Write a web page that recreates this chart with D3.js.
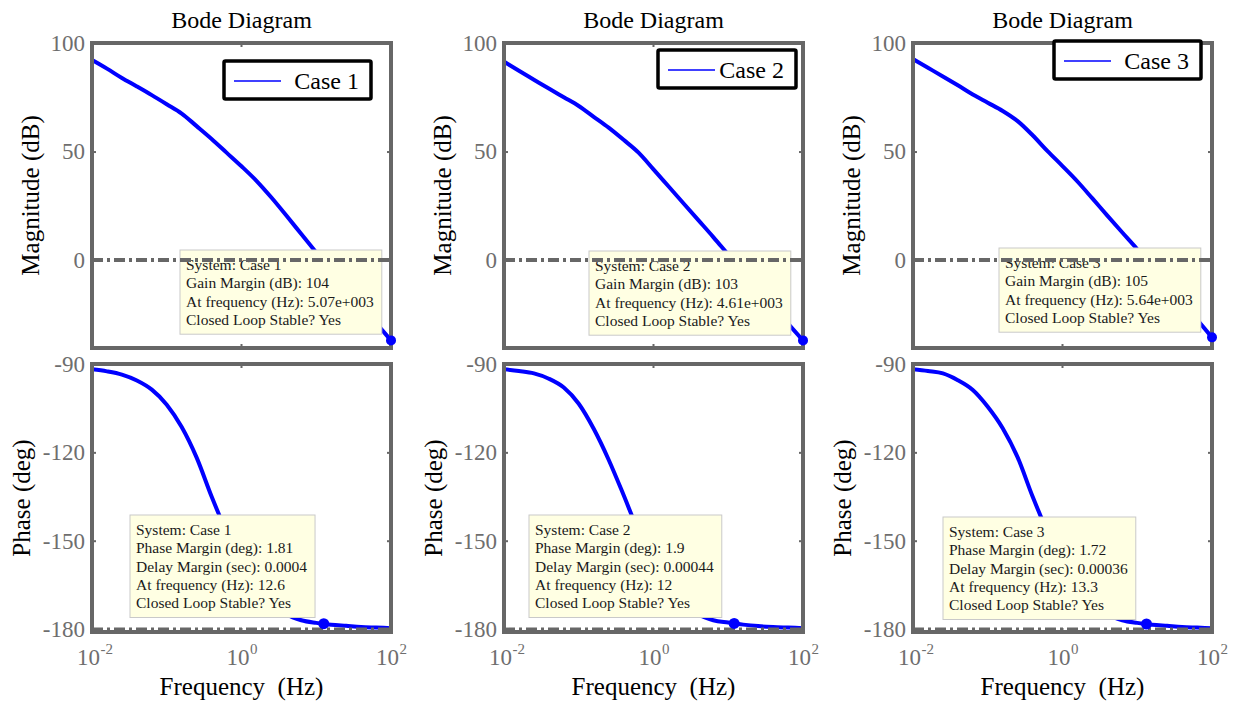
<!DOCTYPE html>
<html lang="en">
<head>
<meta charset="UTF-8">
<title>Bode Diagram</title>
<script src="https://d3js.org/d3.v7.min.js"></script>
<style>
  body { margin: 0; background: #fff; }
  svg text { font-family: "Liberation Serif", "Times New Roman", Tinos, "DejaVu Serif", serif; }
</style>
</head>
<body>
<div id="chart"></div>
<script>
const logFreq = [-2, -1.8, -1.6, -1.4, -1.2, -1.0, -0.8, -0.6, -0.4, -0.2, 0,
                 0.2, 0.4, 0.6, 0.8, 1.0, 1.2, 1.4, 1.6, 1.8, 2];

const cases = ["Case 1", "Case 2", "Case 3"];

// magnitude (dB)
const magCase1 = [92.2, 88.2, 83.9, 80.0, 76.0, 71.8, 67.5, 61.7, 55.8, 49.5, 43.2,
                  36.5, 28.8, 20.5, 12.0, 3.5, -5.0, -13.0, -21.0, -29.0, -37.0];
const magCase2 = [91.4, 87.2, 83.1, 79.0, 75.0, 71.0, 66.0, 61.0, 55.4, 49.5, 41.8,
                  34.0, 26.2, 18.4, 10.6, 2.5, -5.5, -13.5, -21.5, -29.3, -37.0];
const magCase3 = [92.6, 88.6, 84.6, 80.5, 76.3, 72.5, 68.7, 64.0, 57.5, 50.2, 43.3,
                  36.2, 28.4, 20.5, 12.7, 5.0, -3.1, -11.2, -19.3, -27.4, -35.6];

// phase (deg)
const phaseCase1 = [-91.8, -92.5, -93.6, -95.6, -98.7, -103.8, -111.4, -121.8, -135.0, -147.0, -157.0,
                    -165.0, -171.0, -175.0, -177.0, -177.9, -178.5, -178.9, -179.3, -179.5, -179.7];
const phaseCase2 = [-91.8, -92.4, -93.2, -95.0, -98.0, -103.5, -112.0, -122.5, -134.5, -147.0, -157.0,
                    -165.0, -171.0, -175.0, -177.0, -177.8, -178.5, -179.0, -179.3, -179.5, -179.7];
const phaseCase3 = [-91.8, -92.4, -93.2, -95.5, -98.8, -104.5, -111.8, -121.7, -135.0, -147.0, -157.0,
                    -165.0, -171.0, -175.0, -177.0, -177.9, -178.5, -178.9, -179.3, -179.5, -179.7];

// stability margins shown in the data tips
const gainMargin = [104, 103, 105];
const gmFreq = ["5.07e+003", "4.61e+003", "5.64e+003"];
const phaseMargin = [1.81, 1.9, 1.72];
const delayMargin = ["0.0004", "0.00044", "0.00036"];
const pmFreq = [12.6, 12, 13.3];

const magTicks = [100, 50, 0];
const phaseTicks = [-90, -120, -150, -180];
const freqTickExp = [-2, 0, 2];

const mags = [magCase1, magCase2, magCase3];
const phases = [phaseCase1, phaseCase2, phaseCase3];

const width = 1237, height = 705;
const gray = "#676767";
const tickGray = "#6e6e6e";
const serif = "'Liberation Serif', 'Times New Roman', Tinos, 'DejaVu Serif', serif";

// placement of each column (axes left edge, legend and data tip boxes)
const layout = [
  { left: 92,  legX: 224,  legY: 61, legW: 147, magTipX: 180, magTipY: 250, phTipX: 130, phTipY: 515 },
  { left: 504, legX: 658,  legY: 50, legW: 138, magTipX: 589, magTipY: 251, phTipX: 529, phTipY: 515 },
  { left: 913, legX: 1054, legY: 41, legW: 147, magTipX: 999, magTipY: 248, phTipX: 943, phTipY: 517 }
];
const axW = 299;
const magTop = 43, magBottom = 348;
const phTop = 364, phBottom = 632;

const svg = d3.select("#chart").append("svg")
  .attr("width", width).attr("height", height)
  .attr("font-family", serif)
  .style("background", "#fff");

function tipBox(g, x, y, lines) {
  const box = g.append("rect").attr("x", x).attr("y", y)
    .attr("fill", "#ffffe3").attr("stroke", "#c9c9c9").attr("stroke-width", 1);
  let maxLen = 0;
  lines.forEach((t, i) => {
    const txt = g.append("text").attr("x", x + 6).attr("y", y + 20 + i * 18.3)
      .attr("font-size", "15.5px").attr("fill", "#1a1a1a").text(t);
    maxLen = Math.max(maxLen, txt.node().getComputedTextLength());
  });
  box.attr("width", maxLen + 14).attr("height", lines.length * 18.3 + 11);
}

layout.forEach((p, i) => {
  const g = svg.append("g");
  const x = d3.scaleLog().domain([0.01, 100]).range([p.left, p.left + axW]);
  const yMag = d3.scaleLinear().domain([-40.5, 100]).range([magBottom, magTop]);
  const yPh = d3.scaleLinear().domain([-181, -90]).range([phBottom, phTop]);

  const magPts = logFreq.map((lf, k) => [Math.pow(10, lf), mags[i][k]]);
  const phPts = logFreq.map((lf, k) => [Math.pow(10, lf), phases[i][k]]);

  // title
  g.append("text").attr("x", p.left + axW / 2).attr("y", 28)
    .attr("text-anchor", "middle").attr("font-size", "24px").attr("fill", "#000")
    .text("Bode Diagram");

  // y labels
  g.append("text")
    .attr("transform", `translate(${p.left - 62},${(magTop + magBottom) / 2}) rotate(-90)`)
    .attr("text-anchor", "middle").attr("dominant-baseline", "central")
    .attr("font-size", "25px").attr("fill", "#000").text("Magnitude (dB)");
  g.append("text")
    .attr("transform", `translate(${p.left - 71},${(phTop + phBottom) / 2}) rotate(-90)`)
    .attr("text-anchor", "middle").attr("dominant-baseline", "central")
    .attr("font-size", "25px").attr("fill", "#000").text("Phase (deg)");

  // y axes
  const fmt = d => String(d);
  const magAxis = g.append("g").attr("transform", `translate(${p.left},0)`)
    .call(d3.axisLeft(yMag).tickValues(magTicks).tickFormat(fmt).tickSizeInner(-4).tickSizeOuter(0).tickPadding(7));
  const magAxisR = g.append("g").attr("transform", `translate(${p.left + axW},0)`)
    .call(d3.axisRight(yMag).tickValues(magTicks).tickSizeInner(-4).tickSizeOuter(0).tickFormat(""));
  const phAxis = g.append("g").attr("transform", `translate(${p.left},0)`)
    .call(d3.axisLeft(yPh).tickValues(phaseTicks).tickFormat(fmt).tickSizeInner(-4).tickSizeOuter(0).tickPadding(7));
  const phAxisR = g.append("g").attr("transform", `translate(${p.left + axW},0)`)
    .call(d3.axisRight(yPh).tickValues(phaseTicks).tickSizeInner(-4).tickSizeOuter(0).tickFormat(""));
  [magAxis, magAxisR, phAxis, phAxisR].forEach(a => {
    a.attr("font-family", serif);
    a.select(".domain").remove();
    a.selectAll("line").attr("stroke", gray).attr("stroke-width", 2);
    a.selectAll("text").attr("font-size", "23px").attr("fill", tickGray);
  });

  // x ticks on both axes boxes
  freqTickExp.forEach(e => {
    const xv = x(Math.pow(10, e));
    [[magTop, 1], [magBottom, -1], [phTop, 1], [phBottom, -1]].forEach(([yy, dir]) => {
      g.append("line").attr("x1", xv).attr("x2", xv).attr("y1", yy).attr("y2", yy + dir * 4)
        .attr("stroke", gray).attr("stroke-width", 2);
    });
    g.append("text").attr("x", xv + 8).attr("y", 665).attr("text-anchor", "end")
      .attr("font-size", "23px").attr("fill", tickGray).text("10");
    g.append("text").attr("x", xv + 8.5).attr("y", 654).attr("text-anchor", "start")
      .attr("font-size", "15px").attr("fill", tickGray).text(String(e));
  });

  // x label
  g.append("text").attr("x", p.left + axW / 2).attr("y", 695)
    .attr("text-anchor", "middle").attr("font-size", "25px").attr("fill", "#000")
    .style("white-space", "pre").text("Frequency  (Hz)");

  // clip paths
  svg.append("clipPath").attr("id", "clipMag" + i).append("rect")
    .attr("x", p.left).attr("y", magTop).attr("width", axW).attr("height", magBottom - magTop);
  svg.append("clipPath").attr("id", "clipPh" + i).append("rect")
    .attr("x", p.left).attr("y", phTop).attr("width", axW).attr("height", phBottom - phTop);

  // magnitude curve
  const magLine = d3.line().x(d => x(d[0])).y(d => yMag(d[1])).curve(d3.curveMonotoneX);
  g.append("path").datum(magPts).attr("d", magLine)
    .attr("clip-path", `url(#clipMag${i})`)
    .attr("fill", "none").attr("stroke", "#0000ff").attr("stroke-width", 4)
    .attr("stroke-linejoin", "round").attr("stroke-linecap", "round");

  // phase curve
  const phLine = d3.line().x(d => x(d[0])).y(d => yPh(d[1])).curve(d3.curveMonotoneX);
  g.append("path").datum(phPts).attr("d", phLine)
    .attr("clip-path", `url(#clipPh${i})`)
    .attr("fill", "none").attr("stroke", "#0000ff").attr("stroke-width", 4)
    .attr("stroke-linejoin", "round").attr("stroke-linecap", "round");

  // data tips
  tipBox(g, p.magTipX, p.magTipY, [
    "System: " + cases[i],
    "Gain Margin (dB): " + gainMargin[i],
    "At frequency (Hz): " + gmFreq[i],
    "Closed Loop Stable? Yes"
  ]);
  tipBox(g, p.phTipX, p.phTipY, [
    "System: " + cases[i],
    "Phase Margin (deg): " + phaseMargin[i],
    "Delay Margin (sec): " + delayMargin[i],
    "At frequency (Hz): " + pmFreq[i],
    "Closed Loop Stable? Yes"
  ]);

  // 0 dB and -180 deg reference lines
  g.append("line").attr("x1", p.left).attr("x2", p.left + axW)
    .attr("y1", yMag(0)).attr("y2", yMag(0))
    .attr("stroke", gray).attr("stroke-width", 4).attr("stroke-dasharray", "11,4,3,4");
  g.append("line").attr("x1", p.left).attr("x2", p.left + axW)
    .attr("y1", yPh(-180)).attr("y2", yPh(-180))
    .attr("stroke", gray).attr("stroke-width", 3).attr("stroke-dasharray", "11,4,3,4");

  // frames
  g.append("rect").attr("x", p.left).attr("y", magTop).attr("width", axW).attr("height", magBottom - magTop)
    .attr("fill", "none").attr("stroke", gray).attr("stroke-width", 4);
  g.append("rect").attr("x", p.left).attr("y", phTop).attr("width", axW).attr("height", phBottom - phTop)
    .attr("fill", "none").attr("stroke", gray).attr("stroke-width", 4);

  // margin markers
  g.append("circle").attr("cx", x(100)).attr("cy", yMag(mags[i][mags[i].length - 1]))
    .attr("r", 5).attr("fill", "#0000ff");
  g.append("circle").attr("cx", x(pmFreq[i])).attr("cy", yPh(-180 + phaseMargin[i]))
    .attr("r", 5.5).attr("fill", "#0000ff");

  // legend
  const leg = g.append("g").attr("transform", `translate(${p.legX},${p.legY})`);
  leg.append("rect").attr("width", p.legW).attr("height", 38)
    .attr("fill", "#fff").attr("stroke", "#000").attr("stroke-width", 3.5).attr("rx", 1.5);
  leg.append("line").attr("x1", 10).attr("x2", 57).attr("y1", 20).attr("y2", 20)
    .attr("stroke", "#0000ff").attr("stroke-width", 1.5);
  leg.append("text").attr("x", p.legW - 12).attr("y", 28).attr("text-anchor", "end")
    .attr("font-size", "24px").attr("fill", "#000").text(cases[i]);
});
</script>
</body>
</html>
